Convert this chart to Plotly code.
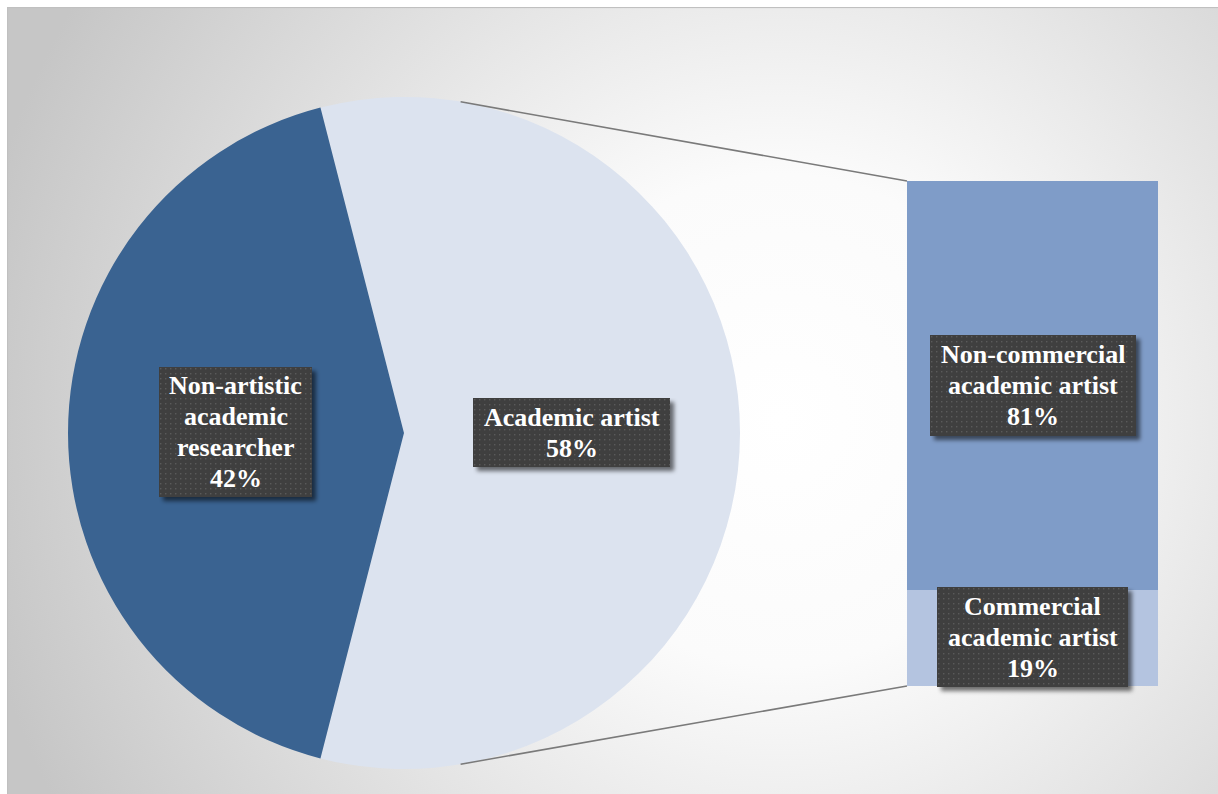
import base64
import math
import plotly.graph_objects as go

# ---------------- data ----------------
pie_labels = ["Academic artist", "Non-artistic academic researcher"]
pie_values = [58, 42]
pie_label_lines = [["Academic artist", "58%"], ["Non-artistic", "academic", "researcher", "42%"]]

bar_labels = ["Commercial academic artist", "Non-commercial academic artist"]
bar_values = [19, 81]
bar_label_lines = [["Commercial", "academic artist", "19%"], ["Non-commercial", "academic artist", "81%"]]

pie_colors = ["#DCE3EF", "#3A6391"]
bar_colors = ["#B4C4E0", "#7F9CC8"]

# ---------------- geometry (page pixels) ----------------
W, H = 1218, 794
PCX, PCY, PR = 404, 433, 336
BX0, BX1, BY0, BY1 = 907, 1158, 181, 686
LINE_H = 31


def px(x):
    return x / W


def py(y):
    return 1 - y / H


def svg_uri(svg):
    return "data:image/svg+xml;base64," + base64.b64encode(svg.encode()).decode()


fig = go.Figure()

# Pie: first slice (Academic artist) centred on the right side
first_span = pie_values[0] / sum(pie_values) * 360
fig.add_trace(go.Pie(
    labels=pie_labels, values=pie_values, sort=False, direction="clockwise",
    rotation=90 - first_span / 2,
    marker=dict(colors=pie_colors, line=dict(width=0)),
    textinfo="none", hoverinfo="skip", showlegend=False,
    domain=dict(x=[px(PCX - PR), px(PCX + PR)], y=[py(PCY + PR), py(PCY - PR)]),
))

# Bar of pie (stacked)
for lab, val, col in zip(bar_labels, bar_values, bar_colors):
    fig.add_trace(go.Bar(
        x=[0], y=[val], name=lab, marker=dict(color=col, line=dict(width=0)),
        width=1, hoverinfo="skip", showlegend=False,
    ))

fig.update_layout(
    barmode="stack", bargap=0,
    width=W, height=H,
    margin=dict(l=0, r=0, t=0, b=0),
    paper_bgcolor="white", plot_bgcolor="rgba(0,0,0,0)",
    xaxis=dict(domain=[px(BX0), px(BX1)], range=[-0.5, 0.5], visible=False, fixedrange=True),
    yaxis=dict(domain=[py(BY1), py(BY0)], range=[0, sum(bar_values)], visible=False, fixedrange=True),
)

# ---------------- background gradient + frame ----------------
FX0, FY0 = 7, 7
fw, fh = W - FX0, H - FY0
bg_svg = f"""<svg xmlns='http://www.w3.org/2000/svg' width='{fw}' height='{fh}' viewBox='0 0 {fw} {fh}'>
<defs><radialGradient id='g' gradientUnits='userSpaceOnUse' cx='{780-FX0}' cy='{420-FY0}' r='820'>
<stop offset='0' stop-color='#ffffff'/><stop offset='0.3' stop-color='#fbfbfb'/>
<stop offset='1' stop-color='#c6c6c6'/></radialGradient></defs>
<rect x='0' y='0' width='{fw}' height='{fh}' fill='url(#g)'/>
<rect x='0.5' y='0.5' width='{fw+4}' height='{fh+4}' fill='none' stroke='#c0c0c0' stroke-width='1.2'/>
</svg>"""
images = [dict(source=svg_uri(bg_svg), xref="paper", yref="paper",
               x=px(FX0), y=py(FY0), sizex=fw / W, sizey=fh / H,
               xanchor="left", yanchor="top", sizing="stretch", layer="below")]

# ---------------- connector lines ----------------
ang = math.radians(9.7)
top_pt = (PCX + PR * math.sin(ang), PCY - PR * math.cos(ang))
bot_pt = (PCX + PR * math.sin(ang), PCY + PR * math.cos(ang))
for (x0, y0), (x1, y1) in [(top_pt, (BX0, BY0)), (bot_pt, (BX0, BY1))]:
    fig.add_shape(type="line", xref="paper", yref="paper",
                  x0=px(x0), y0=py(y0), x1=px(x1), y1=py(y1),
                  line=dict(color="#7a7a7a", width=1.6), layer="above")

# ---------------- label boxes ----------------
boxes = [  # (x0, y0, x1, y1) in page px
    (159, 367, 312, 497, pie_label_lines[1]),
    (473, 398, 670, 467, pie_label_lines[0]),
    (930, 335, 1136, 436, bar_label_lines[1]),
    (937, 587, 1128, 687, bar_label_lines[0]),
]
for x0, y0, x1, y1, lines in boxes:
    w, h = x1 - x0, y1 - y0
    sw, sh = w + 14, h + 14
    box_svg = f"""<svg xmlns='http://www.w3.org/2000/svg' width='{sw}' height='{sh}' viewBox='0 0 {sw} {sh}'>
<defs>
<filter id='b' x='-20%' y='-20%' width='140%' height='140%'><feGaussianBlur stdDeviation='2.2'/></filter>
<pattern id='p' width='5' height='5' patternUnits='userSpaceOnUse'>
<rect width='5' height='5' fill='#3f3f3f'/><rect x='1' y='1' width='1.4' height='1.4' fill='#5a5a5a'/></pattern>
</defs>
<rect x='4' y='4' width='{w}' height='{h}' fill='#000' fill-opacity='0.55' filter='url(#b)'/>
<rect x='0' y='0' width='{w}' height='{h}' fill='url(#p)'/>
</svg>"""
    images.append(dict(source=svg_uri(box_svg), xref="paper", yref="paper",
                       x=px(x0), y=py(y0), sizex=sw / W, sizey=sh / H,
                       xanchor="left", yanchor="top", sizing="stretch", layer="above"))
    cy = (y0 + y1) / 2
    n = len(lines)
    for i, ln in enumerate(lines):
        fig.add_annotation(x=px((x0 + x1) / 2), y=py(cy + (i - (n - 1) / 2) * LINE_H),
                           xref="paper", yref="paper",
                           text="<b>" + ln + "</b>", showarrow=False, align="center",
                           xanchor="center", yanchor="middle",
                           font=dict(family="Liberation Serif, Times New Roman, serif", size=26, color="white"))

fig.update_layout(images=images)
fig.write_html("out.html", config={"displayModeBar": False})
